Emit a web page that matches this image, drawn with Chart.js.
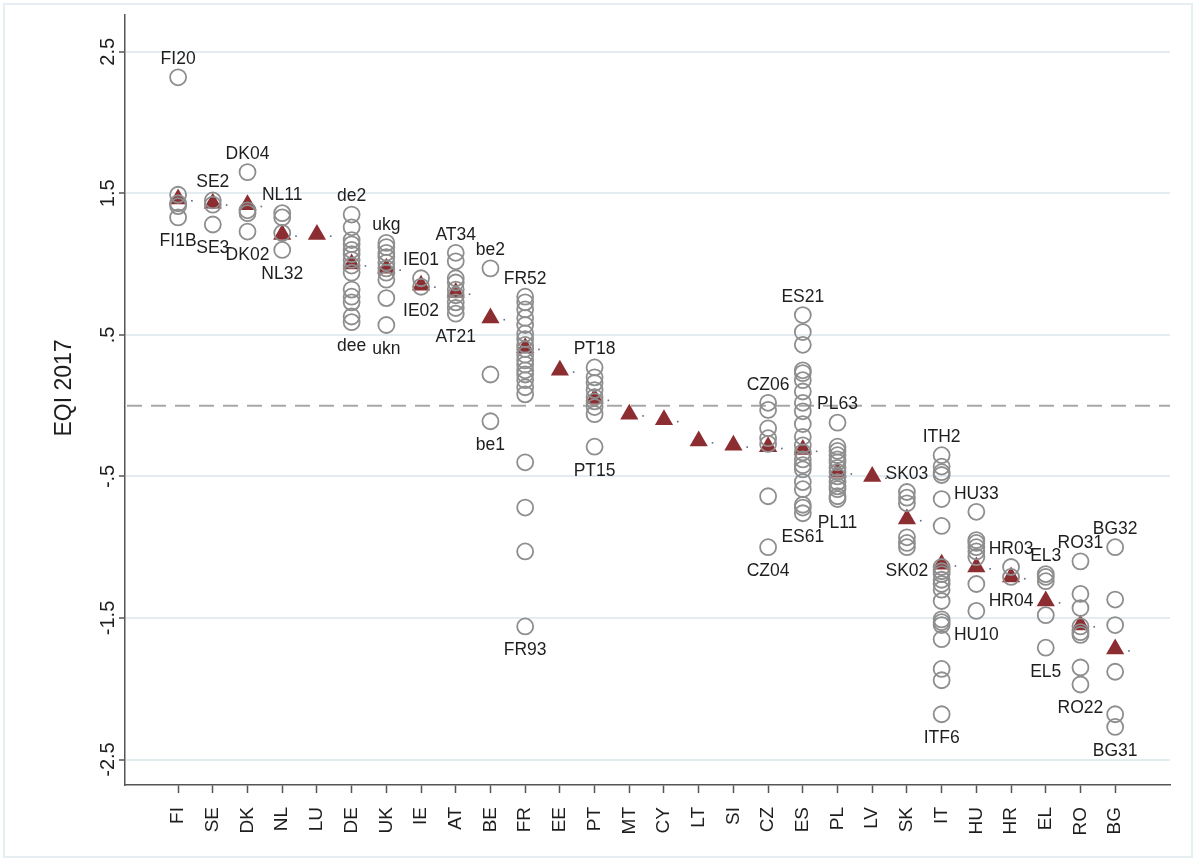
<!DOCTYPE html>
<html>
<head>
<meta charset="utf-8">
<script src="https://cdn.jsdelivr.net/npm/chart.js@4/dist/chart.umd.min.js"></script>
<style>
  body { margin: 0; background: #fff; }
  #wrap { width: 1196px; height: 861px; position: relative; }
</style>
</head>
<body>
<div id="wrap"><canvas id="eqi" width="1196" height="861"></canvas></div>
<script>
"use strict";

var countries = ['FI','SE','DK','NL','LU','DE','UK','IE','AT','BE','FR','EE','PT','MT',
                 'CY','LT','SI','CZ','ES','PL','LV','SK','IT','HU','HR','EL','RO','BG'];

// national score (triangles)
var nationalValues = [1.46, 1.43, 1.42, 1.21, 1.21, 1.00, 0.97, 0.85, 0.80, 0.62, 0.41, 0.25, 0.05, -0.06,
                      -0.10, -0.25, -0.28, -0.29, -0.31, -0.47, -0.50, -0.80, -1.12, -1.14, -1.21, -1.38, -1.55, -1.72];

// regional scores (hollow circles), one list per country
var regionValues = [
    [2.32, 1.49, 1.43, 1.41, 1.33],
    [1.45, 1.42, 1.28],
    [1.65, 1.38, 1.36, 1.23],
    [1.36, 1.33, 1.22, 1.10],
    [],
    [1.35, 1.26, 1.17, 1.14, 1.10, 1.07, 1.03, 0.99, 0.94, 0.82, 0.77, 0.73, 0.63, 0.59],
    [1.15, 1.12, 1.08, 1.05, 1.01, 0.97, 0.94, 0.89, 0.76, 0.57],
    [0.90, 0.84],
    [1.08, 1.02, 0.90, 0.87, 0.82, 0.78, 0.73, 0.69, 0.65],
    [0.97, 0.22, -0.11],
    [0.77, 0.73, 0.68, 0.62, 0.57, 0.51, 0.47, 0.43, 0.40, 0.36, 0.32, 0.29, 0.25, 0.22, 0.18, 0.13, 0.08,
     -0.40, -0.72, -1.03, -1.56],
    [],
    [0.27, 0.20, 0.16, 0.11, 0.06, 0.03, -0.01, -0.06, -0.29],
    [],
    [],
    [],
    [],
    [0.02, -0.03, -0.16, -0.23, -0.27, -0.64, -1.00],
    [0.64, 0.52, 0.43, 0.25, 0.23, 0.18, 0.10, 0.02, -0.04, -0.13, -0.22, -0.28, -0.33, -0.38, -0.42,
     -0.45, -0.54, -0.59, -0.70, -0.72, -0.76],
    [-0.12, -0.29, -0.32, -0.35, -0.38, -0.40, -0.44, -0.47, -0.50, -0.54, -0.57, -0.59, -0.64, -0.66],
    [],
    [-0.61, -0.65, -0.69, -0.93, -0.97, -1.00],
    [-0.35, -0.43, -0.47, -0.49, -0.66, -0.85, -1.14, -1.17, -1.19, -1.23, -1.26, -1.30, -1.38, -1.51,
     -1.53, -1.55, -1.65, -1.86, -1.94, -2.18],
    [-0.75, -0.95, -0.97, -1.00, -1.03, -1.07, -1.26, -1.45],
    [-1.14, -1.21],
    [-1.19, -1.21, -1.24, -1.48, -1.71],
    [-1.10, -1.33, -1.43, -1.56, -1.60, -1.62, -1.85, -1.97],
    [-1.00, -1.37, -1.55, -1.88, -2.18, -2.27]
];

// names of the highest / lowest region of each country
var topLabels = ['FI20','SE2','DK04','NL11',null,'de2','ukg','IE01','AT34','be2','FR52',null,'PT18',null,
                 null,null,null,'CZ06','ES21','PL63',null,'SK03','ITH2','HU33','HR03','EL3','RO31','BG32'];
var bottomLabels = ['FI1B','SE3','DK02','NL32',null,'dee','ukn','IE02','AT21','be1','FR93',null,'PT15',null,
                    null,null,null,'CZ04','ES61','PL11',null,'SK02','ITF6','HU10','HR04','EL5','RO22','BG31'];

var yTicks = [2.5, 1.5, 0.5, -0.5, -1.5, -2.5];
var yTickLabels = ['2.5', '1.5', '.5', '-.5', '-1.5', '-2.5'];

function _each(arr, fn) { for (var k = 0; k < arr.length; k++) fn(arr[k], k); }

var regionPoints = [];
_each(regionValues, function(list, i) {
    _each(list, function(v) { regionPoints.push({x: i, y: v}); });
});
var nationalPoints = nationalValues.map(function(v, i) { return {x: i, y: v}; });

var FONT = 'Arial, "Liberation Sans", sans-serif';

var extrasPlugin = {
    id: 'extras',
    beforeDatasetsDraw: function(chart) {
        var ctx = chart.ctx, area = chart.chartArea;
        var y0 = chart.scales.y.getPixelForValue(0);
        ctx.save();
        ctx.strokeStyle = '#a8a8a8';
        ctx.lineWidth = 2;
        ctx.setLineDash([15, 9]);
        ctx.beginPath();
        ctx.moveTo(area.left + 2, y0);
        ctx.lineTo(area.right, y0);
        ctx.stroke();
        ctx.restore();
    },
    afterDatasetsDraw: function(chart) {
        var ctx = chart.ctx;
        var xs = chart.scales.x, ys = chart.scales.y;
        ctx.save();
        // small marker dots beside the triangles
        ctx.fillStyle = '#5a6a8a';
        _each(nationalValues, function(v, i) {
            ctx.fillRect(xs.getPixelForValue(i) + 13, ys.getPixelForValue(v) + 1, 1.6, 1.6);
        });
        // region name labels
        ctx.fillStyle = '#1e1e1e';
        ctx.font = '17.5px ' + FONT;
        ctx.textAlign = 'center';
        ctx.textBaseline = 'middle';
        _each(countries, function(c, i) {
            var list = regionValues[i];
            if (!list.length) return;
            var px = xs.getPixelForValue(i);
            if (topLabels[i]) {
                ctx.fillText(topLabels[i], px, ys.getPixelForValue(Math.max.apply(null, list)) - 18);
            }
            if (bottomLabels[i]) {
                ctx.fillText(bottomLabels[i], px, ys.getPixelForValue(Math.min.apply(null, list)) + 24);
            }
        });
        ctx.restore();
    },
    afterDraw: function(chart) {
        var ctx = chart.ctx, ys = chart.scales.y, area = chart.chartArea;
        ctx.save();
        ctx.fillStyle = '#1e1e1e';
        ctx.font = '20px ' + FONT;
        ctx.textAlign = 'center';
        ctx.textBaseline = 'middle';
        _each(yTicks, function(t, k) {
            ctx.save();
            ctx.translate(area.left - 17, ys.getPixelForValue(t));
            ctx.rotate(-Math.PI / 2);
            ctx.fillText(yTickLabels[k], 0, 0);
            ctx.restore();
        });
        ctx.font = '23px ' + FONT;
        ctx.translate(area.left - 60, (area.top + area.bottom) / 2 - 12);
        ctx.rotate(-Math.PI / 2);
        ctx.fillText('EQI 2017', 0, 0);
        ctx.restore();
        // faint outer frame
        ctx.save();
        ctx.strokeStyle = '#e6eef1';
        ctx.lineWidth = 2;
        ctx.strokeRect(4, 4, chart.width - 8, chart.height - 8);
        ctx.restore();
    }
};

var chart = new Chart(document.getElementById('eqi'), {
    type: 'scatter',
    data: {
        datasets: [
            {
                label: 'regions',
                data: regionPoints,
                pointStyle: 'circle',
                pointRadius: 8,
                pointHoverRadius: 8,
                pointBorderWidth: 1.8,
                pointBorderColor: '#8e8e8e',
                pointBackgroundColor: 'rgba(0,0,0,0)',
                order: 0
            },
            {
                label: 'national',
                data: nationalPoints,
                pointStyle: 'triangle',
                pointRadius: 10.5,
                pointHoverRadius: 10.5,
                pointBorderWidth: 0,
                pointBackgroundColor: '#8c2d31',
                pointBorderColor: '#8c2d31',
                order: 1
            }
        ]
    },
    options: {
        responsive: false,
        animation: false,
        devicePixelRatio: 1,
        layout: { padding: { top: 15, right: 26, left: 0, bottom: 0 } },
        plugins: { legend: { display: false }, tooltip: { enabled: false } },
        scales: {
            x: {
                type: 'linear',
                min: -1.53,
                max: 28.58,
                afterBuildTicks: function(scale) {
                    scale.ticks = countries.map(function(c, i) { return {value: i}; });
                },
                afterFit: function(scale) { scale.height = 76; },
                ticks: {
                    autoSkip: false,
                    minRotation: 90,
                    maxRotation: 90,
                    padding: 14,
                    color: '#1e1e1e',
                    font: { size: 19, family: FONT },
                    callback: function(v) { return countries[v]; }
                },
                grid: { drawOnChartArea: false, tickLength: 8, tickColor: '#555', tickWidth: 1.5 },
                border: { display: true, color: '#555', width: 1.5 }
            },
            y: {
                min: -2.68,
                max: 2.76,
                afterBuildTicks: function(scale) {
                    scale.ticks = yTicks.map(function(t) { return {value: t}; });
                },
                afterFit: function(scale) { scale.width = 125; },
                ticks: { display: false },
                grid: { color: '#e3edf0', lineWidth: 2, tickLength: 6, tickColor: '#555', tickWidth: 1.5 },
                border: { display: true, color: '#555', width: 1.5 }
            }
        }
    },
    plugins: [extrasPlugin]
});
</script>
</body>
</html>
